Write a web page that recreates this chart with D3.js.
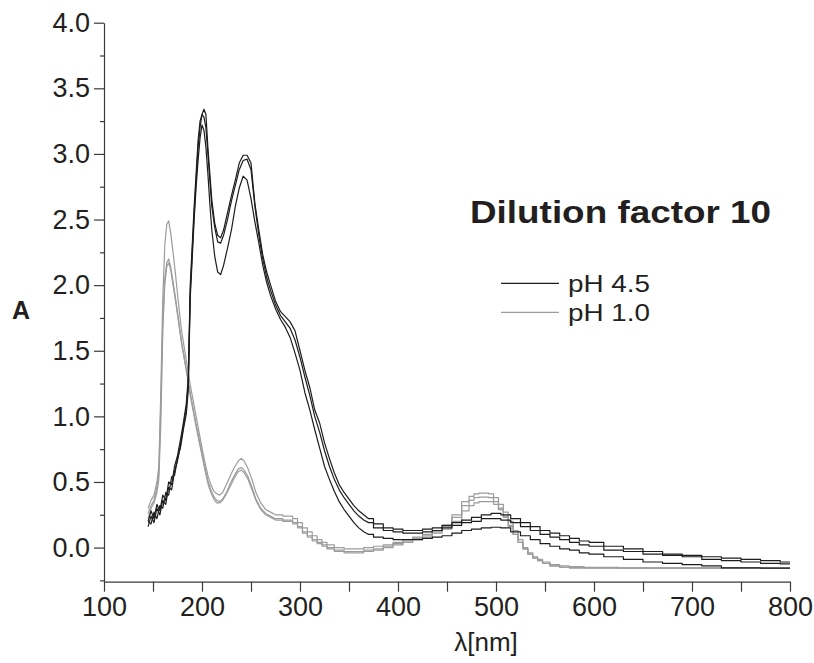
<!DOCTYPE html>
<html>
<head>
<meta charset="utf-8">
<script src="https://cdn.jsdelivr.net/npm/d3@7"></script>
<style>
  body { margin: 0; background: #fff; }
  svg { display: block; font-family: "Liberation Sans", Arial, sans-serif; }
</style>
</head>
<body>
<svg id="chart" width="814" height="663"></svg>
<script>
// pH 4.5 replicates (black)
const wlBlack = [145,148,151,154,157,160,163,166,169,172,175,178,181,184,186,188,190,192,194,196,198,200,202,204,206,208,210,213,216,219,222,226,230,234,238,242,246,250,254,258,262,266,270,275,280,285,290,295,300,305,310,315,320,325,330,335,340,345,350,355,360,365,370,380,390,400,410,420,430,440,450,460,470,480,490,500,510,520,530,540,550,560,570,580,590,600,620,640,660,680,700,720,740,760,780,800]
const black1 = [0.20,0.28,0.22,0.33,0.28,0.40,0.36,0.50,0.48,0.62,0.70,0.82,0.95,1.10,1.30,2.00,2.30,2.60,2.85,3.10,3.25,3.30,3.34,3.30,3.05,2.85,2.65,2.47,2.38,2.36,2.42,2.55,2.68,2.80,2.93,2.99,2.99,2.93,2.62,2.42,2.23,2.10,2.00,1.88,1.80,1.76,1.72,1.65,1.50,1.35,1.22,1.05,0.95,0.80,0.68,0.57,0.48,0.42,0.37,0.32,0.28,0.25,0.22,0.18,0.15,0.14,0.13,0.13,0.14,0.15,0.17,0.19,0.21,0.23,0.25,0.26,0.25,0.22,0.19,0.16,0.13,0.11,0.09,0.07,0.05,0.04,0.01,-0.01,-0.03,-0.05,-0.06,-0.07,-0.08,-0.09,-0.10,-0.11]
const black2 = [0.16,0.24,0.19,0.30,0.25,0.36,0.33,0.46,0.44,0.58,0.66,0.78,0.92,1.06,1.25,1.95,2.25,2.55,2.80,3.05,3.20,3.30,3.28,3.20,3.00,2.80,2.60,2.44,2.33,2.32,2.38,2.50,2.64,2.76,2.88,2.95,2.96,2.88,2.60,2.38,2.20,2.06,1.96,1.85,1.77,1.72,1.67,1.58,1.45,1.30,1.16,1.00,0.88,0.74,0.62,0.52,0.44,0.38,0.33,0.28,0.24,0.21,0.19,0.15,0.13,0.12,0.11,0.11,0.12,0.13,0.15,0.17,0.19,0.20,0.22,0.22,0.21,0.19,0.16,0.13,0.10,0.08,0.06,0.04,0.02,0.01,-0.02,-0.03,-0.05,-0.06,-0.07,-0.09,-0.10,-0.11,-0.12,-0.124]
const black3 = [0.20,0.18,0.27,0.22,0.32,0.30,0.42,0.40,0.54,0.55,0.68,0.76,0.90,1.02,1.20,1.90,2.20,2.50,2.75,2.95,3.12,3.22,3.18,3.05,2.85,2.62,2.42,2.22,2.10,2.08,2.15,2.28,2.42,2.60,2.74,2.83,2.80,2.66,2.48,2.32,2.15,2.02,1.92,1.82,1.74,1.68,1.60,1.48,1.35,1.18,1.05,0.90,0.76,0.62,0.52,0.43,0.35,0.29,0.24,0.19,0.15,0.12,0.10,0.08,0.07,0.06,0.06,0.06,0.07,0.08,0.09,0.11,0.13,0.14,0.15,0.155,0.15,0.12,0.09,0.06,0.03,0.01,-0.01,-0.02,-0.04,-0.05,-0.07,-0.09,-0.11,-0.12,-0.13,-0.14,-0.155,-0.155,-0.157,-0.157]

// pH 1.0 replicates (grey)
const wlGrey = [145,148,151,154,156,158,160,162,164,166,168,170,173,176,179,182,185,188,191,194,197,200,203,206,209,212,215,218,221,225,229,233,237,240,243,247,251,255,260,265,270,275,280,285,290,295,300,305,310,315,320,325,330,340,350,360,370,380,390,400,410,420,430,440,450,460,470,475,480,485,490,495,500,505,510,515,520,525,530,535,540,545,550,560,570,580,600,650,700,750,800]
const grey1 = [0.30,0.36,0.40,0.50,0.62,1.20,1.90,2.30,2.46,2.49,2.40,2.28,2.08,1.86,1.66,1.52,1.38,1.24,1.12,1.00,0.88,0.76,0.65,0.55,0.48,0.43,0.41,0.40,0.42,0.48,0.55,0.61,0.66,0.68,0.66,0.60,0.52,0.42,0.34,0.29,0.27,0.25,0.25,0.24,0.24,0.22,0.19,0.15,0.12,0.09,0.06,0.04,0.02,0.00,-0.01,-0.01,0.00,0.01,0.02,0.04,0.06,0.08,0.10,0.13,0.17,0.25,0.35,0.39,0.41,0.415,0.415,0.41,0.38,0.33,0.27,0.20,0.13,0.06,0.00,-0.04,-0.07,-0.09,-0.11,-0.13,-0.14,-0.145,-0.15,-0.155,-0.155,-0.155,-0.157]
const grey2 = [0.26,0.32,0.36,0.46,0.58,1.10,1.75,2.05,2.17,2.20,2.14,2.05,1.90,1.74,1.58,1.45,1.32,1.18,1.06,0.94,0.83,0.72,0.61,0.51,0.44,0.39,0.36,0.35,0.37,0.42,0.49,0.55,0.60,0.61,0.59,0.54,0.46,0.37,0.30,0.26,0.24,0.22,0.22,0.21,0.21,0.19,0.16,0.12,0.09,0.06,0.04,0.02,0.00,-0.02,-0.03,-0.03,-0.02,-0.01,0.01,0.03,0.05,0.07,0.09,0.12,0.16,0.23,0.32,0.36,0.38,0.385,0.385,0.38,0.35,0.30,0.24,0.17,0.10,0.04,-0.01,-0.05,-0.08,-0.10,-0.12,-0.14,-0.15,-0.155,-0.155,-0.157,-0.157,-0.157,-0.157]
const grey3 = [0.22,0.30,0.34,0.42,0.52,0.95,1.65,2.00,2.14,2.17,2.12,2.02,1.88,1.72,1.56,1.43,1.30,1.16,1.04,0.92,0.81,0.70,0.59,0.49,0.42,0.37,0.34,0.34,0.36,0.41,0.47,0.53,0.58,0.59,0.57,0.52,0.44,0.36,0.29,0.25,0.23,0.21,0.21,0.20,0.20,0.18,0.15,0.11,0.08,0.05,0.03,0.01,-0.01,-0.03,-0.04,-0.04,-0.03,-0.02,0.00,0.02,0.04,0.06,0.08,0.11,0.14,0.20,0.28,0.32,0.34,0.35,0.35,0.35,0.33,0.29,0.23,0.16,0.10,0.04,-0.01,-0.05,-0.08,-0.10,-0.12,-0.14,-0.15,-0.155,-0.157,-0.157,-0.157,-0.157,-0.157]

const yMajor = [0,0.5,1,1.5,2,2.5,3,3.5,4]
const yMinor = [-0.25,0.25,0.75,1.25,1.75,2.25,2.75,3.25,3.75]
const xTicks = [100,150,200,250,300,350,400,450,500,550,600,650,700,750,800]

const legend = [
	{label:'pH 4.5', color:'#1e1c1d'},
	{label:'pH 1.0', color:'#9c9c9c'}
]

const ink = '#231f20'
const svg = d3.select('#chart')

const x = d3.scaleLinear()
			.domain([100, 800])
			.range([104, 790])

const y = d3.scaleLinear()
			.domain([-0.26, 4.0])
			.range([581.7, 22.7])

// y axis, major then minor ticks
svg.append('g')
	.attr('transform', 'translate(104,0)')
	.call(d3.axisLeft(y).tickValues(yMajor).tickSize(10).tickSizeOuter(0).tickPadding(4).tickFormat(d3.format('.1f')))
svg.append('g')
	.attr('transform', 'translate(104,0)')
	.call(d3.axisLeft(y).tickValues(yMinor).tickSize(4).tickFormat(''))
	.call(g => g.select('.domain').remove())

// x axis
svg.append('g')
	.attr('transform', 'translate(0,581.7)')
	.call(d3.axisBottom(x).tickValues(xTicks).tickSize(10).tickSizeOuter(0).tickPadding(5)
		.tickFormat(d => d % 100 === 0 ? d : ''))

svg.selectAll('.domain, .tick line').attr('stroke', '#3a3a3a').attr('stroke-width', 1.2)
svg.selectAll('.tick text')
	.attr('fill', ink)
	.style('font-size', '27px')
	.style('font-family', '"Liberation Sans", Arial, sans-serif')

// smooth through the peaks, stepped in the flat tails like the recorded trace
const smooth = d3.line().x(d => x(d[0])).y(d => y(d[1]))
const stepped = d3.line().x(d => x(d[0])).y(d => y(d[1])).curve(d3.curveStep)

const series = [
	{wl: wlGrey, values: grey1, color: legend[1].color, split: 280},
	{wl: wlGrey, values: grey2, color: legend[1].color, split: 280},
	{wl: wlGrey, values: grey3, color: legend[1].color, split: 280},
	{wl: wlBlack, values: black1, color: legend[0].color, split: 370},
	{wl: wlBlack, values: black2, color: legend[0].color, split: 370},
	{wl: wlBlack, values: black3, color: legend[0].color, split: 370}
]

const curves = svg.append('g')
series.forEach(s => {
	const pts = s.wl.map((w, i) => [w, s.values[i]])
	const head = pts.filter(p => p[0] <= s.split)
	const tail = pts.filter(p => p[0] >= s.split)
	curves.append('path')
		.attr('fill', 'none')
		.attr('stroke', s.color)
		.attr('stroke-width', 1.2)
		.attr('stroke-linejoin', 'round')
		.attr('d', smooth(head) + stepped(tail).replace(/^M/, 'L'))
})

// axis titles
svg.append('text')
	.attr('x', 21)
	.attr('y', 319)
	.attr('text-anchor', 'middle')
	.attr('fill', ink)
	.style('font-size', '25px')
	.style('font-weight', 'bold')
	.text('A')

svg.append('text')
	.attr('x', 486)
	.attr('y', 651)
	.attr('text-anchor', 'middle')
	.attr('fill', ink)
	.style('font-size', '26px')
	.text('λ[nm]')

// title and legend
svg.append('text')
	.attr('x', 470)
	.attr('y', 223)
	.attr('fill', ink)
	.attr('textLength', 301)
	.attr('lengthAdjust', 'spacingAndGlyphs')
	.style('font-size', '32px')
	.style('font-weight', 'bold')
	.text('Dilution factor 10')

const leg = svg.append('g')
	.selectAll('g')
	.data(legend)
	.join('g')
		.attr('transform', (d, i) => 'translate(0,' + (283.3 + i * 29) + ')')

leg.append('line')
	.attr('x1', 501)
	.attr('x2', 559)
	.attr('stroke', d => d.color)
	.attr('stroke-width', 1.3)

leg.append('text')
	.attr('x', 568)
	.attr('y', 8.5)
	.attr('fill', ink)
	.attr('textLength', 82)
	.attr('lengthAdjust', 'spacingAndGlyphs')
	.style('font-size', '24px')
	.text(d => d.label)
</script>
</body>
</html>
